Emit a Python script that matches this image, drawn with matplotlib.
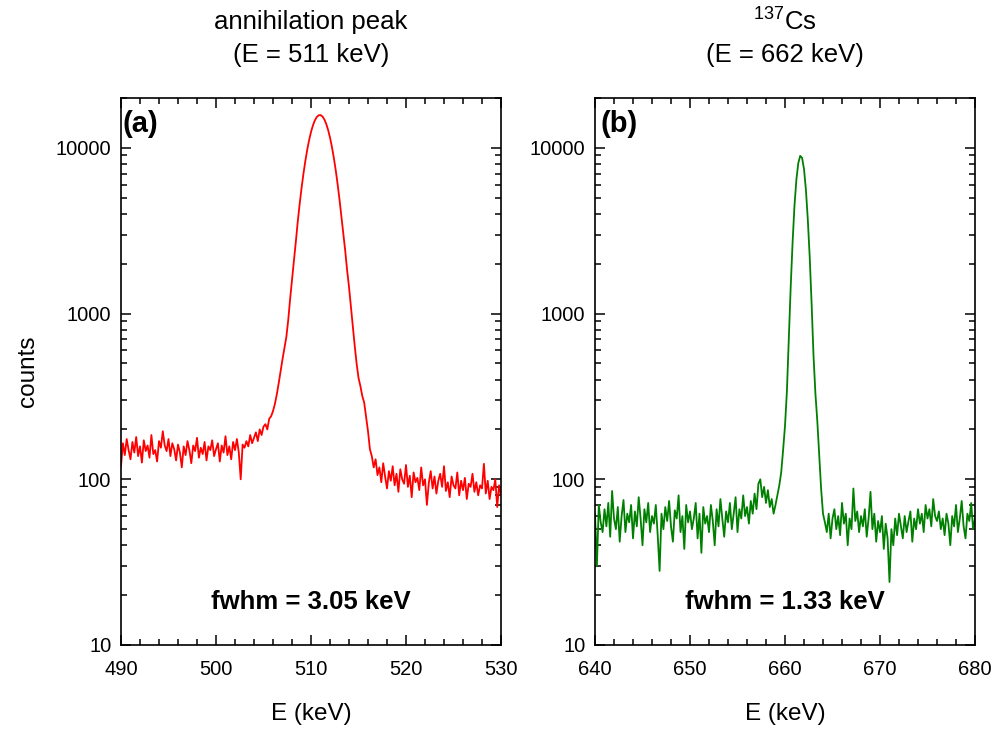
import numpy as np
import matplotlib
matplotlib.use("Agg")
import matplotlib.pyplot as plt
from matplotlib.ticker import MultipleLocator, LogLocator, FixedLocator, FixedFormatter, NullFormatter

plt.rcParams['font.family'] = ['Liberation Sans', 'DejaVu Sans']
plt.rcParams['mathtext.fontset'] = 'custom'
plt.rcParams['mathtext.rm'] = 'Liberation Sans'
plt.rcParams['mathtext.default'] = 'regular'

# ---- spectrum data (0.2 keV channels) ----
e_start_a, e_start_b, e_step = 490.0, 640.0, 0.2

counts_a = [
    120, 165, 140, 175, 150, 132, 168, 145, 180, 138,
    158, 126, 172, 148, 160, 135, 185, 142, 150, 128,
    170, 155, 195, 160, 148, 175, 138, 165, 152, 130,
    162, 145, 118, 158, 140, 170, 150, 125, 160, 148,
    178, 135, 155, 142, 168, 130, 158, 150, 172, 138,
    152, 165, 128, 160, 145, 182, 140, 158, 132, 168,
    150, 175, 145, 100, 162, 155,
    170, 158, 185, 165, 178, 192, 170, 200, 185, 208,
    215, 200, 232, 240, 258,
    285, 325, 380, 450, 530,
    620, 720, 910, 1220, 1600,
    2080, 2700, 3565, 4550, 5690,
    6950, 8310, 9730, 11130, 12470,
    13650, 14630, 15330, 15730, 15780,
    15490, 14870, 13970, 12840, 11540,
    10150, 8730, 7350, 6050, 4880,
    3840, 2990, 2400, 1830, 1450,
    1100, 830, 640, 500, 410,
    365, 318, 290, 238, 195,
    152, 138, 118, 132, 106,
    118, 96, 125, 104, 88, 112, 98, 120, 92, 108,
    84, 115, 100, 94, 122, 90, 105, 78, 110, 96,
    102, 86, 118, 92, 100, 70, 95, 112, 88, 104,
    82, 98, 108, 90, 120, 85, 96, 78, 104, 92,
    88, 110, 80, 98, 86, 102, 76, 94, 90, 108,
    84, 96, 80, 92, 88, 124, 82, 98, 76, 90,
    86, 100, 68, 92, 80,
]

counts_b = [
    62, 30, 70, 55, 48, 66, 52, 72, 45, 85,
    58, 50, 68, 42, 60, 75, 48, 62, 55, 70,
    44, 64, 52, 78, 58, 40, 66, 55, 72, 48,
    60, 54, 70, 46, 28, 62, 50, 68, 56, 74,
    52, 42, 65, 58, 80, 48, 60, 38, 70, 55,
    64, 50, 58, 72, 44, 62, 36, 68, 54, 60,
    48, 70, 56, 40, 66, 52, 76, 58, 45, 64,
    55, 72, 50, 62, 78, 48, 66, 58, 80, 60,
    68, 54, 74, 62, 82, 66, 94, 100, 78, 90,
    72, 86, 68, 76, 62, 70, 80,
    92, 110, 150, 210, 340, 700, 1450, 2700, 4500, 6450,
    8100, 8950, 8700, 7450, 5600, 3700, 2200, 1150, 560, 330,
    225, 140, 88, 62,
    55, 48, 62, 44, 58, 66, 50, 60, 46, 72,
    54, 62, 40, 58, 50, 88, 56, 64, 48, 60,
    52, 66, 45, 58, 84, 50, 62, 42, 56, 48,
    60, 38, 54, 44, 24, 50, 40, 58, 46, 62,
    52, 44, 60, 48, 56, 64, 42, 58, 50, 66,
    54, 62, 48, 70, 58, 66, 52, 76, 60, 56,
    64, 50, 58, 46, 62, 54, 40, 60, 52, 70,
    48, 58, 74, 52, 44, 62, 56, 72, 50, 58,
]

energy_a = e_start_a + e_step * np.arange(len(counts_a))
energy_b = e_start_b + e_step * np.arange(len(counts_b))

xlim_a = (490, 530)
xlim_b = (640, 680)
ylim = (10, 20000)
ytick_vals = [10, 100, 1000, 10000]
ytick_labels = ['10', '100', '1000', '10000']

titles_a = ['annihilation peak', '(E = 511 keV)']
titles_b = [r'$^{137}$Cs', '(E = 662 keV)']
fwhm_a = 'fwhm = 3.05 keV'
fwhm_b = 'fwhm = 1.33 keV'

fig = plt.figure(figsize=(10.01, 7.31), dpi=100)
W, H = 1001, 731
ax_bottom = 1 - 645 / H
ax_height = (645 - 98) / H
ax_a = fig.add_axes([121 / W, ax_bottom, 380 / W, ax_height])
ax_b = fig.add_axes([595 / W, ax_bottom, 380 / W, ax_height])


def style(ax, xlim):
    ax.set_yscale('log')
    ax.set_xlim(*xlim)
    ax.set_ylim(*ylim)
    ax.xaxis.set_major_locator(MultipleLocator(10))
    ax.xaxis.set_minor_locator(MultipleLocator(2))
    ax.yaxis.set_major_locator(FixedLocator(ytick_vals))
    ax.yaxis.set_major_formatter(FixedFormatter(ytick_labels))
    ax.yaxis.set_minor_locator(LogLocator(base=10, subs=np.arange(2, 10)))
    ax.yaxis.set_minor_formatter(NullFormatter())
    ax.tick_params(which='both', direction='in', top=True, right=True,
                   width=1.1, colors='black')
    ax.tick_params(which='major', length=7, labelsize=14.5)
    ax.tick_params(which='minor', length=4)
    ax.tick_params(axis='x', which='major', pad=11)
    ax.tick_params(axis='y', which='major', pad=7)
    for s in ax.spines.values():
        s.set_linewidth(1.2)
    ax.set_xlabel('E (keV)', fontsize=17.5, labelpad=17)


ax_a.plot(energy_a, counts_a, color='#ff0000', lw=1.3)
ax_b.plot(energy_b, counts_b, color='#008000', lw=1.3)
style(ax_a, xlim_a)
style(ax_b, xlim_b)

ax_a.set_ylabel('counts', fontsize=17.5, va='center')
ax_a.yaxis.set_label_coords(-(121 - 28) / 380, 0.5)

ax_a.text(0.005, 0.953, '(a)', transform=ax_a.transAxes, ha='left', va='center',
          fontsize=21, fontweight='bold')
ax_b.text(0.015, 0.953, '(b)', transform=ax_b.transAxes, ha='left', va='center',
          fontsize=21, fontweight='bold')

ax_a.text(0.5, 0.078, fwhm_a, transform=ax_a.transAxes, ha='center', va='center',
          fontsize=18.5, fontweight='bold')
ax_b.text(0.5, 0.078, fwhm_b, transform=ax_b.transAxes, ha='center', va='center',
          fontsize=18.5, fontweight='bold')

for cx, lines in ((311, titles_a), (785, titles_b)):
    fig.text(cx / W, 1 - 22 / H, lines[0], ha='center', va='center', fontsize=18.5)
    fig.text(cx / W, 1 - 55 / H, lines[1], ha='center', va='center', fontsize=18.5)

fig.savefig('out.png', dpi=100)
